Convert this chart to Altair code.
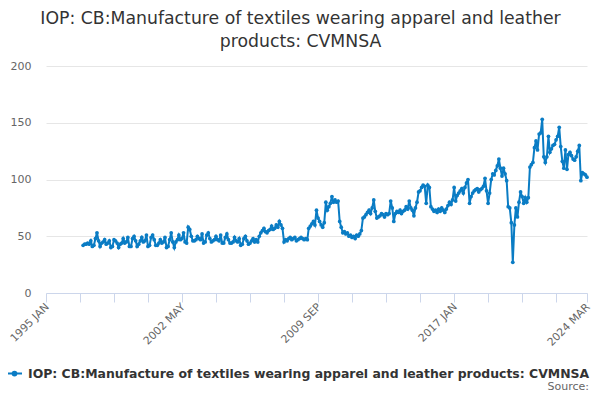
import altair as alt
import pandas as pd

SERIES = "IOP: CB:Manufacture of textiles wearing apparel and leather products: CVMNSA"
TITLE_LINES = ["IOP: CB:Manufacture of textiles wearing apparel and leather", "products: CVMNSA"]
LABEL_MONTHS = ["1995-01", "2002-05", "2009-09", "2017-01", "2024-03"]
TICK_MONTHS = [(1995, 1), (1996, 11), (1998, 9), (2000, 7), (2002, 5), (2004, 3), (2006, 1),
               (2007, 11), (2009, 9), (2011, 7), (2013, 5), (2015, 3), (2017, 1), (2018, 11),
               (2020, 9), (2022, 7), (2024, 3)]

v1997 = [42, 43, 43, 44, 43, 46, 41, 42, 48, 53, 46, 41]
v1998 = [44, 45, 47, 43, 44, 46, 40, 41, 47, 46, 44, 40]
v1999 = [43, 44, 48, 44, 45, 49, 41, 41, 48, 50, 46, 41]
v2000 = [43, 46, 49, 45, 46, 51, 41, 42, 49, 51, 47, 42]
v2001 = [42, 44, 47, 44, 45, 49, 40, 41, 47, 53, 45, 40]
v2002 = [45, 47, 51, 47, 48, 53, 45, 44, 58, 56, 50, 46]
v2003 = [46, 47, 50, 48, 47, 52, 44, 45, 51, 53, 48, 45]
v2004 = [46, 47, 50, 47, 46, 51, 44, 44, 49, 52, 47, 44]
v2005 = [44, 45, 49, 46, 45, 48, 42, 43, 48, 50, 46, 43]
v2006 = [44, 46, 48, 45, 47, 45, 50, 53, 55, 57, 54, 53]
v2007 = [55, 56, 59, 56, 57, 60, 58, 63, 60, 57, 45, 47]
v2008 = [46, 48, 49, 47, 48, 49, 46, 47, 48, 49, 48, 47]
v2009 = [48, 47, 57, 59, 61, 63, 60, 73, 66, 63, 60, 58]
v2010 = [62, 80, 73, 76, 79, 85, 80, 82, 80, 81, 63, 58]
v2011 = [53, 54, 52, 53, 50, 51, 49, 50, 48, 51, 50, 52]
v2012 = [55, 66, 67, 69, 71, 73, 70, 75, 82, 72, 66, 67]
v2013 = [68, 70, 69, 67, 70, 69, 70, 81, 75, 63, 70, 72]
v2014 = [71, 73, 70, 72, 73, 76, 74, 81, 75, 73, 68, 75]
v2015 = [80, 89, 90, 93, 95, 94, 79, 95, 93, 76, 74, 72]
v2016 = [73, 71, 74, 72, 75, 73, 71, 74, 77, 80, 78, 82]
v2017 = [93, 81, 86, 88, 90, 92, 88, 93, 97, 100, 79, 85]
v2018 = [88, 90, 91, 92, 89, 91, 92, 94, 101, 90, 79, 88]
v2019 = [100, 105, 104, 108, 112, 118, 110, 103, 110, 105, 99, 76]
v2020 = [75, 62, 27, 60, 75, 67, 80, 89, 85, 79, 84, 80]
v2021 = [84, 111, 113, 115, 128, 134, 126, 140, 141, 153, 120, 115]
v2022 = [120, 138, 124, 127, 130, 131, 135, 138, 146, 129, 116, 110]
v2023 = [126, 109, 122, 124, 121, 118, 117, 120, 125, 130, 99, 106]
v2024 = [105, 104, 102]

values = (v1997 + v1998 + v1999 + v2000 + v2001 + v2002 + v2003 + v2004 + v2005 + v2006
          + v2007 + v2008 + v2009 + v2010 + v2011 + v2012 + v2013 + v2014 + v2015 + v2016
          + v2017 + v2018 + v2019 + v2020 + v2021 + v2022 + v2023 + v2024)
dates = pd.date_range("1997-01-01", periods=len(values), freq="MS").strftime("%Y-%m-%d")
df = pd.DataFrame({"date": list(dates), "value": values, "series": SERIES})

COLOR = "#0a7cc4"
FONT = "DejaVu Sans"

tick_values = [alt.DateTime(year=y, month=m, date=1, utc=True) for y, m in TICK_MONTHS]
label_list = ",".join("'" + s + "'" for s in LABEL_MONTHS)
label_expr = ("indexof([" + label_list + "], utcFormat(datum.value, '%Y-%m')) >= 0 ? "
              "upper(utcFormat(datum.value, '%Y %b')) : ''")

x = alt.X(
    "date:T",
    scale=alt.Scale(type="utc", domain=[alt.DateTime(year=1995, month=1, date=1, utc=True),
                                         alt.DateTime(year=2024, month=3, date=1, utc=True)]),
    axis=alt.Axis(values=tick_values, labelExpr=label_expr, labelAngle=-45, labelAlign="right",
                  labelBaseline="middle", labelPadding=3, labelOffset=1, tickSize=9,
                  tickColor="#ccd6eb", domainColor="#ccd6eb", grid=False, title=None,
                  labelColor="#666666", labelFontSize=10.8, labelFont=FONT,
                  labelOverlap=False, labelFlush=False),
)
y = alt.Y(
    "value:Q",
    scale=alt.Scale(domain=[0, 200], nice=False),
    axis=alt.Axis(values=[0, 50, 100, 150, 200], domain=False, ticks=False, gridColor="#e6e6e6",
                  labelColor="#666666", labelFontSize=11, labelFont=FONT, labelPadding=15,
                  title=None),
)
color = alt.Color(
    "series:N",
    scale=alt.Scale(range=[COLOR]),
    legend=alt.Legend(
        title=None, orient="none", legendX=-40, legendY=299, padding=0,
        symbolType="M-1,0L1,0M-0.25,0a0.25,0.25 0 1,0 0.5,0a0.25,0.25 0 1,0 -0.5,0",
        symbolSize=225, symbolStrokeWidth=2, symbolStrokeColor=COLOR, symbolFillColor=COLOR,
        labelFont=FONT, labelFontSize=12.45, labelFontWeight="bold", labelColor="#333333",
        labelLimit=700, labelOffset=5,
    ),
)

line = alt.Chart(df).mark_line(strokeWidth=2, point=alt.OverlayMarkDef(size=14, filled=True)).encode(
    x=x, y=y, color=color
)

source = alt.Chart(pd.DataFrame({"t": ["Source:"]})).mark_text(
    align="right", baseline="middle", font=FONT, fontSize=11, color="#666666"
).encode(text="t:N", x=alt.value(543), y=alt.value(321))

chart = alt.layer(line, source).properties(
    width=541,
    height=227,
    autosize=alt.AutoSizeParams(type="none"),
    padding={"left": 38, "top": 58, "right": 5, "bottom": 99},
    title=alt.TitleParams(TITLE_LINES, font=FONT, fontSize=17.3, fontWeight="normal",
                          color="#333333", anchor="middle", frame="group", dx=-16,
                          offset=10, lineHeight=23),
).configure_view(stroke=None)

chart.save("out.html", embed_options={"renderer": "svg", "actions": False})
